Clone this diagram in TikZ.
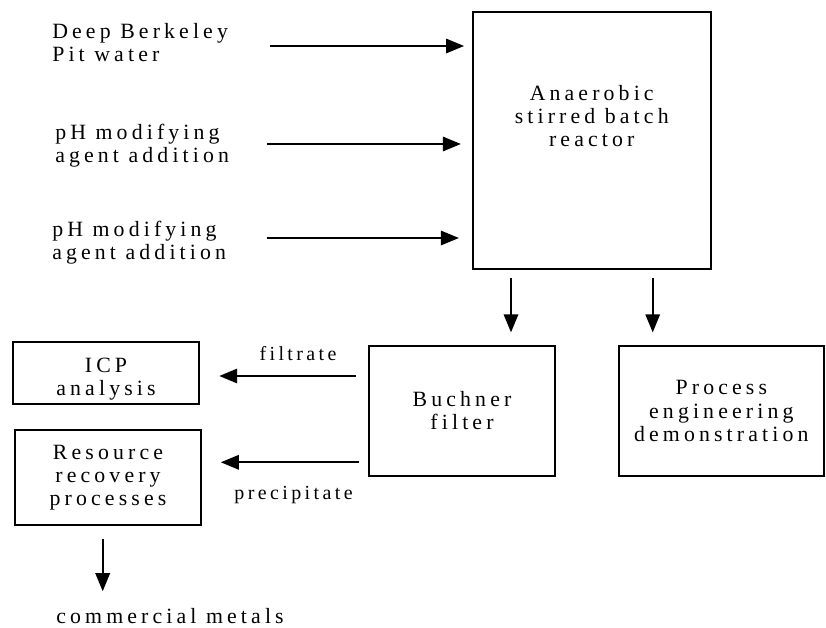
\documentclass[tikz,border=0pt]{standalone}
\usepackage{fontspec}
\setmainfont{Liberation Serif}[LetterSpace=19]
\newfontfamily\edgefamily{Liberation Serif}[LetterSpace=17]
\usetikzlibrary{arrows.meta}

\newcommand{\flowfont}{\fontsize{15.5pt}{16.4pt}\selectfont}
\newcommand{\edgefont}{\edgefamily\fontsize{14.2pt}{15pt}\selectfont}

\tikzset{
  box/.style={draw, line width=1.4pt, inner sep=0pt, align=center, font=\flowfont},
  txt/.style={inner sep=0pt, font=\flowfont},
  edgetxt/.style={inner sep=0pt, font=\edgefont},
  flow/.style={line width=1.3pt, -{Triangle[length=0.45cm,width=0.36cm]}},
}

\begin{document}
\begin{tikzpicture}[x=0.025cm, y=-0.025cm]
\useasboundingbox (0,0) rectangle (826,628);

% feed streams
\node[txt, anchor=west, align=left] (water) at (52,43) {Deep Berkeley\\Pit water};
\node[txt, anchor=west, align=left] (ph1) at (55,146) {pH modifying\\agent addition};
\node[txt, anchor=west, align=left] (ph2) at (52,243) {pH modifying\\agent addition};
\coordinate (in1) at (270,46);
\coordinate (in2) at (267,144);
\coordinate (in3) at (267,238);

% reactor
\node[box, minimum width=5.95cm, minimum height=6.44cm,
  label={[txt, align=center, yshift=0.61cm]center:{Anaerobic\\stirred batch\\reactor}}]
  (reactor) at (591.7,140.5) {};

\draw[flow, shorten >=0.19cm] (in1) -- (in1 -| reactor.west);
\draw[flow, shorten >=0.27cm] (in2) -- (in2 -| reactor.west);
\draw[flow, shorten >=0.32cm] (in3) -- (in3 -| reactor.west);

% second stage
\node[box, minimum width=4.64cm, minimum height=3.24cm] (buchner) at (462,411) {Buchner\\filter};
\node[box, minimum width=5.13cm, minimum height=3.24cm] (process) at (721.3,411) {Process\\engineering\\demonstration};
\coordinate (d1) at (511,0);
\coordinate (d2) at (652.7,0);
\draw[flow, shorten <=0.19cm, shorten >=0.32cm] (reactor.south -| d1) -- (buchner.north -| d1);
\draw[flow, shorten <=0.19cm, shorten >=0.32cm] (reactor.south -| d2) -- (process.north -| d2);

% products
\node[box, minimum width=4.67cm, minimum height=1.56cm,
  label={[txt, align=center, yshift=-0.15cm]center:{ICP\\analysis}}] (icp) at (106,372.9) {};
\node[box, minimum width=4.65cm, minimum height=2.37cm] (resource) at (108,477.5) {Resource\\recovery\\processes};
\node[edgetxt] (filtrate) at (298,354) {filtrate};
\node[edgetxt] (precip) at (293.5,495) {precipitate};
\coordinate (f1) at (0,376);
\coordinate (p1) at (0,462.3);
\draw[flow, shorten <=0.3cm, shorten >=0.47cm] (buchner.west |- f1) -- (icp.east |- f1);
\draw[flow, shorten <=0.23cm, shorten >=0.47cm] (buchner.west |- p1) -- (resource.east |- p1);

\node[txt] (metals) at (170,616) {commercial metals};
\coordinate (m1) at (102.7,0);
\draw[flow, shorten <=0.33cm, shorten >=0.42cm] (resource.south -| m1) -- (metals.north -| m1);
\end{tikzpicture}
\end{document}
